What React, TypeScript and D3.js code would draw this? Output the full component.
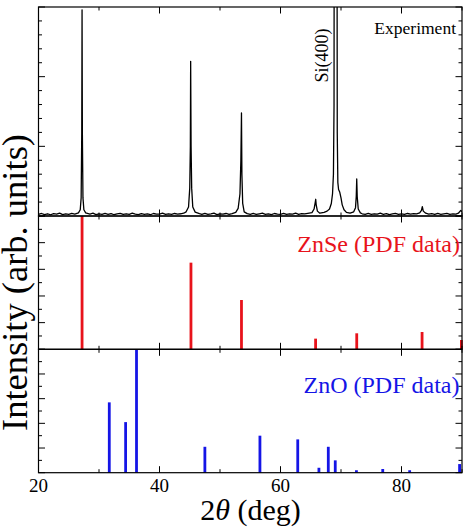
import { useMemo } from "react";
import { scaleLinear, line, curveLinear } from "d3";

// measured scan: 2θ (deg) and intensity (arb.)
const scanTheta = [
  20.0, 20.5, 21.0, 21.5, 22.0, 22.5, 23.0, 23.5, 24.0, 24.5, 25.0, 25.5, 26.0, 26.6, 26.9, 27.05,
  27.15, 27.2, 27.25, 27.35, 27.5, 27.8, 28.5, 29.0, 29.5, 30.0, 30.5, 31.0, 31.5, 32.0, 32.5, 33.0,
  33.5, 34.0, 34.5, 35.0, 35.5, 36.0, 36.5, 37.0, 37.5, 38.0, 38.5, 39.0, 39.5, 40.0, 40.5, 41.0,
  41.5, 42.0, 42.5, 43.0, 43.5, 44.0, 44.4, 44.8, 45.0, 45.1, 45.15, 45.22, 45.32, 45.5, 45.9, 46.6,
  47.0, 47.5, 48.0, 48.5, 49.0, 49.5, 50.0, 50.5, 51.0, 51.5, 52.0, 52.6, 53.0, 53.3, 53.45, 53.55,
  53.62, 53.75, 54.0, 54.5, 55.0, 55.5, 56.0, 56.5, 57.0, 57.5, 58.0, 58.5, 59.0, 59.5, 60.0, 60.5,
  61.0, 61.5, 62.0, 62.5, 63.0, 63.5, 64.0, 64.5, 65.2, 65.55, 65.75, 65.82, 65.9, 66.1, 66.5, 67.2,
  67.7, 68.1, 68.4, 68.6, 68.75, 68.85, 68.9, 69.3, 69.38, 69.48, 69.6, 69.8, 70.0, 70.2, 70.5, 70.9,
  71.5, 72.1, 72.4, 72.52, 72.6, 72.68, 72.85, 73.2, 73.5, 74.0, 74.5, 75.0, 75.5, 76.0, 76.5, 77.0,
  77.5, 78.0, 78.5, 79.0, 79.5, 80.0, 80.5, 81.0, 81.5, 82.0, 82.5, 83.0, 83.3, 83.44, 83.6, 84.0,
  84.5, 85.0, 85.5, 86.0, 86.5, 87.0, 87.5, 88.0, 88.5, 89.0, 89.4, 89.8, 90.0,
];
const scanCounts = [
  0.12, 0.18, 0.1, 0.16, 0.09, 0.17, 0.13, 0.2, 0.1, 0.15, 0.12, 0.19, 0.13, 0.22, 0.45, 1.3,
  6.0, 14.8, 6.0, 1.3, 0.45, 0.22, 0.14, 0.2, 0.1, 0.16, 0.11, 0.18, 0.12, 0.17, 0.09, 0.15,
  0.19, 0.11, 0.16, 0.12, 0.2, 0.13, 0.1, 0.17, 0.12, 0.15, 0.09, 0.18, 0.13, 0.14, 0.2, 0.11,
  0.16, 0.12, 0.18, 0.14, 0.16, 0.2, 0.3, 0.65, 2.0, 5.0, 11.1, 5.0, 2.0, 0.65, 0.28, 0.17,
  0.12, 0.19, 0.11, 0.15, 0.2, 0.1, 0.16, 0.13, 0.18, 0.12, 0.17, 0.26, 0.55, 1.6, 4.0, 7.4,
  3.0, 0.9, 0.3, 0.17, 0.12, 0.18, 0.11, 0.16, 0.2, 0.12, 0.15, 0.1, 0.18, 0.13, 0.12, 0.19,
  0.11, 0.16, 0.13, 0.2, 0.12, 0.17, 0.15, 0.19, 0.24, 0.5, 1.0, 1.2, 0.8, 0.35, 0.2, 0.26,
  0.35, 0.5, 0.9, 1.6, 3.0, 8.0, 40.0, 40.0, 6.0, 2.4, 1.9, 1.7, 1.3, 0.8, 0.45, 0.26,
  0.2, 0.3, 0.6, 1.4, 2.66, 1.4, 0.5, 0.22, 0.16, 0.12, 0.19, 0.11, 0.16, 0.13, 0.2, 0.12,
  0.17, 0.1, 0.15, 0.19, 0.12, 0.16, 0.11, 0.18, 0.13, 0.17, 0.15, 0.22, 0.4, 0.67, 0.35, 0.2,
  0.13, 0.17, 0.11, 0.18, 0.12, 0.16, 0.19, 0.12, 0.15, 0.14, 0.2, 0.4, 0.3,
];

// reference patterns (relative intensity, %)
const znseTheta = [27.2, 45.2, 53.55, 65.8, 72.6, 83.4, 89.9];
const znseIntensity = [100, 65, 37, 8, 12, 13, 7];

const znoTheta = [31.7, 34.4, 36.2, 47.5, 56.6, 62.85, 66.35, 67.9, 69.05, 72.55, 76.9, 81.35, 89.6];
const znoIntensity = [57, 41, 100, 21, 30, 27, 4, 21, 10, 2, 3, 2, 7];

const xTickLabels = [20, 40, 60, 80];

const W = 467;
const H = 531;
const X0 = 38.5;
const X1 = 462;
const FONT = "'Liberation Serif', 'Times New Roman', serif";
const RED = "#e8131b";
const BLUE = "#1515e6";

type Panel = {
  top: number;
  bottom: number;
  domain: [number, number];
  ticks: number;
  majorEvery: number;
};

const panels: Panel[] = [
  { top: 7, bottom: 216, domain: [0, 15], ticks: 15, majorEvery: 5 },
  { top: 216, bottom: 349.3, domain: [0, 100], ticks: 10, majorEvery: 20 },
  { top: 349.3, bottom: 472.7, domain: [0, 100], ticks: 10, majorEvery: 20 },
];

const MAJOR = 6.5;
const MINOR = 3.5;

function PanelFrame({ p, x }: { p: Panel; x: any }) {
  const y = scaleLinear().domain(p.domain).range([p.bottom, p.top]);
  const xt = x.ticks(7) as number[];
  const yt = y.ticks(p.ticks);
  return (
    <g>
      {xt.map((t) => {
        const len = t % 20 === 0 ? MAJOR : MINOR;
        const px = x(t);
        return (
          <g key={"x" + t}>
            <line x1={px} x2={px} y1={p.bottom} y2={p.bottom - len} stroke="#000" strokeWidth={1} />
            <line x1={px} x2={px} y1={p.top} y2={p.top + len} stroke="#000" strokeWidth={1} />
          </g>
        );
      })}
      {yt.map((t) => {
        const len = t % p.majorEvery === 0 ? MAJOR : MINOR;
        const py = y(t);
        return (
          <g key={"y" + t}>
            <line x1={X0} x2={X0 + len} y1={py} y2={py} stroke="#000" strokeWidth={1} />
            <line x1={X1} x2={X1 - len} y1={py} y2={py} stroke="#000" strokeWidth={1} />
          </g>
        );
      })}
      <rect x={X0} y={p.top} width={X1 - X0} height={p.bottom - p.top} fill="none" stroke="#000" strokeWidth={1.2} />
    </g>
  );
}

export default function App() {
  const x = useMemo(() => scaleLinear().domain([20, 90]).range([X0, X1]), []);
  const [pTop, pMid, pBot] = panels;
  const yScan = scaleLinear().domain(pTop.domain).range([pTop.bottom, pTop.top]);
  const yZnSe = scaleLinear().domain(pMid.domain).range([pMid.bottom, pMid.top]);
  const yZnO = scaleLinear().domain(pBot.domain).range([pBot.bottom, pBot.top]);

  const scanPath =
    line<number>()
      .x((_, i) => x(scanTheta[i]))
      .y((_, i) => yScan(scanCounts[i]))
      .curve(curveLinear)(scanTheta) || "";

  return (
    <svg
      width={W}
      height={H}
      viewBox={`0 0 ${W} ${H}`}
      style={{ position: "absolute", left: 0, top: 0, background: "#fff" }}
    >
      <defs>
        <clipPath id="scan-clip">
          <rect x={X0} y={pTop.top} width={X1 - X0} height={pTop.bottom - pTop.top} />
        </clipPath>
      </defs>

      <path d={scanPath} fill="none" stroke="#000" strokeWidth={1.3} strokeLinejoin="round" clipPath="url(#scan-clip)" />

      {znseTheta.map((t, i) => (
        <line key={"se" + t} x1={x(t)} x2={x(t)} y1={yZnSe(0)} y2={yZnSe(znseIntensity[i])} stroke={RED} strokeWidth={2.8} />
      ))}
      {znoTheta.map((t, i) => (
        <line key={"o" + t} x1={x(t)} x2={x(t)} y1={yZnO(0)} y2={yZnO(znoIntensity[i])} stroke={BLUE} strokeWidth={2.8} />
      ))}

      {panels.map((p, i) => (
        <PanelFrame key={i} p={p} x={x} />
      ))}

      <g style={{ fontFamily: FONT }}>
        <text x={456} y={34} textAnchor="end" fontSize={17.5}>Experiment</text>
        <text transform="translate(328,55.5) rotate(-90)" textAnchor="middle" fontSize={18}>Si(400)</text>
        <text x={460} y={251.5} textAnchor="end" fontSize={24} fill={RED}>ZnSe (PDF data)</text>
        <text x={459.5} y={393.3} textAnchor="end" fontSize={24} fill={BLUE}>ZnO (PDF data)</text>

        {xTickLabels.map((t) => (
          <text key={"l" + t} x={x(t)} y={492} textAnchor="middle" fontSize={19}>{t}</text>
        ))}

        <text x={250.5} y={520} textAnchor="middle" fontSize={30}>
          2<tspan fontStyle="italic">θ</tspan> (deg)
        </text>
        <text transform="translate(27,282.5) rotate(-90)" textAnchor="middle" fontSize={36.5}>
          Intensity (arb. units)
        </text>
      </g>
    </svg>
  );
}
